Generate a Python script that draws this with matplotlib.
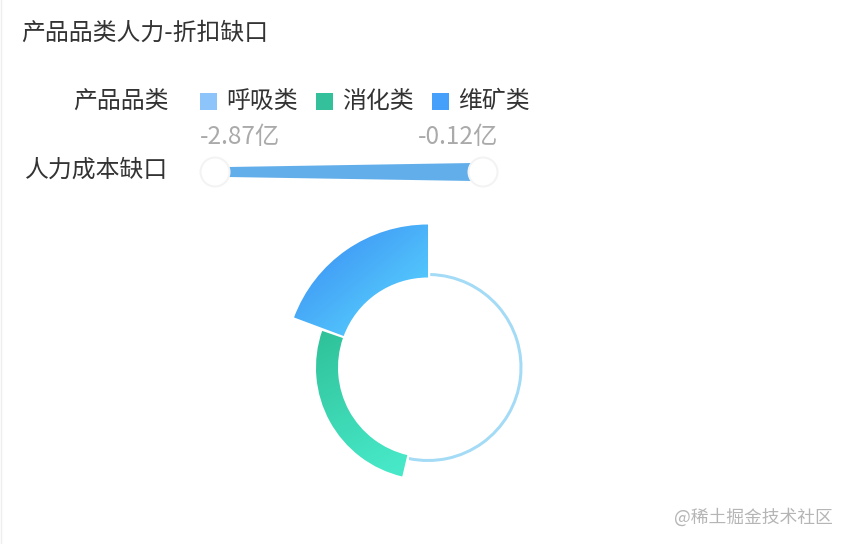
import numpy as np
import matplotlib
matplotlib.use("Agg")
import matplotlib.pyplot as plt
from matplotlib.patches import Wedge, Rectangle, Polygon, Circle
from matplotlib.colors import to_rgb

plt.rcParams['font.family'] = ['Noto Sans CJK SC', 'DejaVu Sans']

# ---------------- data ----------------
title = "产品品类人力-折扣缺口"
legend_title = "产品品类"
categories = ["呼吸类", "消化类", "维矿类"]
# angular share of each category (percent of the full circle)
angle_share = [53.3, 27.0, 19.7]
# radial bar length of each category
radial_value = [3, 22, 53]
visual_label = "人力成本缺口"
visual_min = -2.87
visual_max = -0.12
watermark = "@稀土掘金技术社区"

# ---------------- style ----------------
legend_colors = ["#8dc5fa", "#35c09c", "#44a0fa"]
grad_colors = {
    "呼吸类": ("#a4dbf6", "#a4dbf6"),
    "消化类": ("#2fc198", "#47e8c8"),
    "维矿类": ("#3a8af3", "#55ccfd"),
}

W, H = 850, 544
fig = plt.figure(figsize=(W / 100, H / 100), dpi=100)
ax = fig.add_axes([0, 0, 1, 1])
ax.set_xlim(0, W)
ax.set_ylim(H, 0)
ax.axis("off")

FS = 17.2

# faint left border
ax.plot([1, 1], [0, H], color="#eeeeee", lw=1)

# title
ax.text(21, 33, title, fontsize=FS, color="#333333", ha="left", va="center")

# legend
ax.text(169, 101, legend_title, fontsize=FS, color="#333333", ha="right", va="center")
sq_x = [200, 316, 432]
for i, cat in enumerate(categories):
    ax.add_patch(Rectangle((sq_x[i], 92.5), 17, 17, facecolor=legend_colors[i], edgecolor="none"))
    ax.text(sq_x[i] + 26, 101, cat, fontsize=FS, color="#333333", ha="left", va="center")

# visual map (continuous slider)
ax.text(168, 170, visual_label, fontsize=FS, color="#333333", ha="right", va="center")
bx0, bx1, by = 228, 473, 172
ax.add_patch(Polygon([(bx0, by - 5), (bx1, by - 9), (bx1, by + 9), (bx0, by + 5)],
                     closed=True, facecolor="#62aeea", edgecolor="none"))
for hx in (215, 483):
    ax.add_patch(Circle((hx, by), 15.5, facecolor="#f3f3f3", edgecolor="none"))
    ax.add_patch(Circle((hx, by), 13.5, facecolor="white", edgecolor="none"))
ax.text(240, 137, f"{visual_min:.2f}亿", fontsize=17.5, color="#aaaaaa", ha="center", va="center")
ax.text(458, 137, f"{visual_max:.2f}亿", fontsize=17.5, color="#aaaaaa", ha="center", va="center")

# polar bars
cx, cy = 428, 367.5
r_inner = 90.0
gap = 1.4
order = ["维矿类", "消化类", "呼吸类"]  # counter-clockwise from 12 o'clock
start = 0.0
for cat in order:
    i = categories.index(cat)
    span = angle_share[i] / 100.0 * 360.0
    phi0, phi1 = start, start + span - gap
    start += span
    # screen ccw-from-top angle phi -> data angle (y axis inverted)
    th1, th2 = -90 - phi1, -90 - phi0
    rin = r_inner + 1.5 if cat == "呼吸类" else r_inner
    rout = rin + radial_value[i]
    wedge = Wedge((cx, cy), rout, th1, th2, width=rout - rin,
                  facecolor="none", edgecolor="none", transform=ax.transData)
    ax.add_patch(wedge)
    # bounding box of the sector
    a = np.radians(np.linspace(th1, th2, 200))
    xs = np.concatenate([cx + rout * np.cos(a), cx + rin * np.cos(a)])
    ys = np.concatenate([cy + rout * np.sin(a), cy + rin * np.sin(a)])
    x0, x1, y0, y1 = xs.min(), xs.max(), ys.min(), ys.max()
    c0, c1 = [np.array(to_rgb(c)) for c in grad_colors[cat]]
    n = 200
    gx, gy = np.meshgrid(np.linspace(0, 1, n), np.linspace(0, 1, n))
    if cat == "消化类":
        t = np.clip(0.25 * gx + 0.85 * gy, 0, 1)
    else:
        t = np.clip((gx + gy) / 2.0 * 1.3 - 0.05, 0, 1)
    img = c0[None, None, :] * (1 - t[..., None]) + c1[None, None, :] * t[..., None]
    im = ax.imshow(img, extent=(x0, x1, y1, y0), origin="upper", interpolation="bilinear", zorder=2)
    im.set_clip_path(wedge)

# watermark
ax.text(833, 517, watermark, fontsize=12.8, color="#b5b5b5", ha="right", va="center")

ax.set_xlim(0, W)
ax.set_ylim(H, 0)
ax.set_aspect("auto")
fig.savefig("out.png", dpi=100, facecolor="white")
